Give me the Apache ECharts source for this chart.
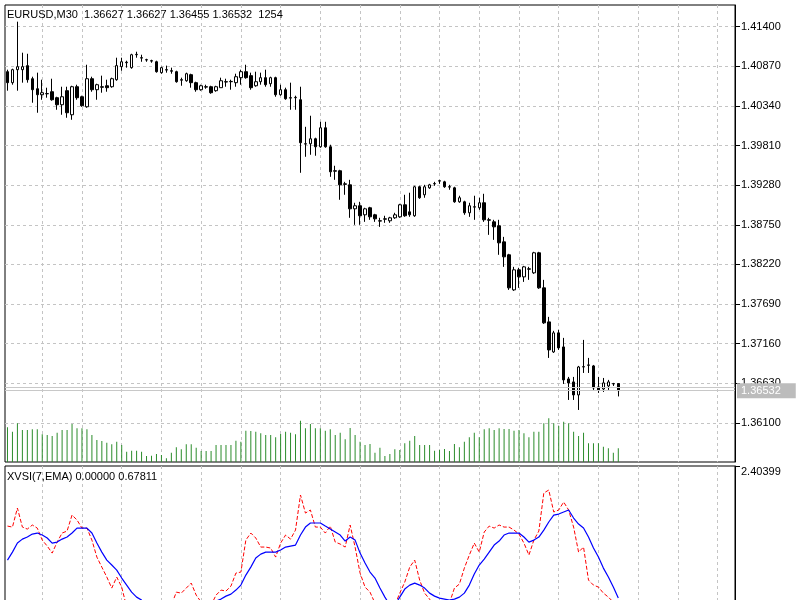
<!DOCTYPE html>
<html>
<head>
<meta charset="utf-8">
<title>EURUSD,M30</title>
<script src="https://cdn.jsdelivr.net/npm/echarts@6/dist/echarts.min.js"></script>
<style>
html, body { margin: 0; padding: 0; background: #fff; }
#chart { width: 800px; height: 600px; }
</style>
</head>
<body>
<div id="chart"></div>
<script>
/* M30 bars: [open, close, low, high] */
var bars = [
  [1.40798,1.40651,1.40544,1.40825],[1.40651,1.40825,1.40624,1.40838],[1.40825,1.40865,1.40544,1.41467],[1.40825,1.40865,1.40651,1.41052],
  [1.40879,1.40691,1.40651,1.41038],[1.40704,1.40557,1.40383,1.40731],[1.40570,1.40490,1.40249,1.40785],[1.40490,1.40517,1.40423,1.40691],
  [1.40505,1.40503,1.40450,1.40584],[1.40530,1.40423,1.40410,1.40704],[1.40450,1.40356,1.40289,1.40463],[1.40356,1.40463,1.40222,1.40597],
  [1.40544,1.40249,1.40182,1.40597],[1.40222,1.40597,1.40155,1.40610],[1.40597,1.40450,1.40423,1.40624],[1.40463,1.40343,1.40329,1.40477],
  [1.40329,1.40704,1.40316,1.40891],[1.40704,1.40557,1.40530,1.40731],[1.40557,1.40624,1.40423,1.40637],[1.40597,1.40590,1.40517,1.40745],
  [1.40610,1.40584,1.40530,1.40691],[1.40597,1.40704,1.40584,1.40718],[1.40691,1.40879,1.40677,1.40985],[1.40865,1.40931,1.40811,1.40985],
  [1.40918,1.40925,1.40852,1.40945],[1.40852,1.41025,1.40838,1.41038],[1.41025,1.41030,1.40985,1.41065],[1.40985,1.40980,1.40931,1.41025],
  [1.40958,1.40955,1.40931,1.40971],[1.40945,1.40940,1.40918,1.40958],[1.40931,1.40798,1.40785,1.40945],[1.40785,1.40852,1.40771,1.40865],
  [1.40825,1.40820,1.40785,1.40879],[1.40811,1.40805,1.40771,1.40852],[1.40798,1.40664,1.40651,1.40811],[1.40691,1.40685,1.40610,1.40718],
  [1.40677,1.40771,1.40664,1.40785],[1.40758,1.40651,1.40584,1.40771],[1.40651,1.40557,1.40530,1.40664],[1.40557,1.40610,1.40544,1.40624],
  [1.40597,1.40592,1.40570,1.40624],[1.40597,1.40517,1.40503,1.40610],[1.40544,1.40597,1.40530,1.40610],[1.40584,1.40677,1.40584,1.40718],
  [1.40664,1.40660,1.40597,1.40704],[1.40664,1.40668,1.40557,1.40691],[1.40651,1.40731,1.40597,1.40771],[1.40718,1.40798,1.40624,1.40825],
  [1.40798,1.40718,1.40704,1.40891],[1.40745,1.40584,1.40557,1.40785],[1.40610,1.40664,1.40597,1.40798],[1.40664,1.40718,1.40624,1.40785],
  [1.40718,1.40624,1.40597,1.40825],[1.40637,1.40718,1.40597,1.40731],[1.40718,1.40490,1.40463,1.40731],[1.40490,1.40557,1.40477,1.40624],
  [1.40557,1.40436,1.40423,1.40584],[1.40450,1.40445,1.40289,1.40651],[1.40450,1.40455,1.40289,1.40477],[1.40423,1.39848,1.39446,1.40597],
  [1.39834,1.39830,1.39660,1.40061],[1.39834,1.39901,1.39687,1.40209],[1.39901,1.39794,1.39674,1.39915],[1.39794,1.40048,1.39781,1.40128],
  [1.40048,1.39794,1.39781,1.40128],[1.39794,1.39459,1.39392,1.39821],[1.39473,1.39468,1.39352,1.39540],[1.39473,1.39285,1.39085,1.39486],
  [1.39298,1.39292,1.39152,1.39325],[1.39285,1.38964,1.38844,1.39352],[1.38964,1.39005,1.38750,1.39045],[1.39005,1.38871,1.38750,1.39058],
  [1.38884,1.38964,1.38790,1.38978],[1.38978,1.38857,1.38817,1.38991],[1.38884,1.38830,1.38790,1.38897],[1.38804,1.38800,1.38723,1.38844],
  [1.38830,1.38826,1.38777,1.38871],[1.38804,1.38844,1.38777,1.38857],[1.38844,1.38884,1.38830,1.38911],[1.38857,1.39018,1.38844,1.39031],
  [1.39018,1.38871,1.38857,1.39152],[1.38924,1.38884,1.38857,1.39179],[1.38871,1.39259,1.38857,1.39272],[1.39259,1.39112,1.39098,1.39272],
  [1.39152,1.39259,1.39112,1.39285],[1.39245,1.39285,1.39232,1.39298],[1.39298,1.39302,1.39272,1.39325],[1.39339,1.39335,1.39298,1.39352],
  [1.39325,1.39259,1.39245,1.39339],[1.39259,1.39255,1.39219,1.39285],[1.39245,1.39058,1.39045,1.39259],[1.39058,1.39112,1.39045,1.39139],
  [1.39058,1.38911,1.38884,1.39072],[1.38911,1.39005,1.38857,1.39045],[1.38991,1.38987,1.38817,1.39139],[1.38978,1.39045,1.38951,1.39112],
  [1.39045,1.38817,1.38790,1.39165],[1.38817,1.38812,1.38616,1.38844],[1.38790,1.38723,1.38549,1.38817],[1.38737,1.38509,1.38349,1.38817],
  [1.38522,1.38322,1.38188,1.38589],[1.38349,1.37907,1.37880,1.38362],[1.37880,1.38148,1.37867,1.38188],[1.38148,1.38054,1.37907,1.38175],
  [1.38054,1.38188,1.37987,1.38201],[1.38161,1.38157,1.38014,1.38188],[1.38108,1.38376,1.38094,1.38389],[1.38376,1.37907,1.37894,1.38389],
  [1.37907,1.37439,1.37425,1.38014],[1.37452,1.37077,1.36970,1.37519],[1.37050,1.37305,1.37037,1.37332],[1.37305,1.37104,1.37077,1.37345],
  [1.37117,1.36676,1.36622,1.37238],[1.36689,1.36636,1.36408,1.36716],[1.36649,1.36475,1.36408,1.36716],[1.36475,1.36849,1.36274,1.36863],
  [1.36849,1.36853,1.36769,1.37211],[1.36876,1.36872,1.36769,1.36970],[1.36863,1.36569,1.36542,1.36876],[1.36582,1.36542,1.36502,1.36716],
  [1.36555,1.36636,1.36515,1.36702],[1.36595,1.36649,1.36542,1.36676],[1.36622,1.36627,1.36595,1.36636],[1.36627,1.36532,1.36455,1.36627]
];

/* tick volume */
var volumes = [
  3172,2776,3538,2928,2928,2989,2989,2532,2471,2379,
  2684,2928,2928,3477,3081,3081,2989,2471,2013,1922,
  1769,1617,1861,1556,946,1037,1037,946,549,580,
  732,641,336,854,1342,1159,1617,1617,1312,1007,
  1007,1007,1556,1556,1556,1556,1952,1861,2867,2837,
  2776,2623,2471,2471,2257,2562,2776,2684,2532,3782,
  3081,3477,3081,3081,2867,2989,2471,2684,2074,3111,
  2471,1861,1556,1647,854,1312,549,732,1159,1098,
  1708,1952,2379,1556,1556,1556,1037,1098,1190,1007,
  1647,1342,1861,2257,2684,2257,2989,3081,2928,3081,
  3020,3020,2867,2928,2623,2257,2776,2776,3538,3996,
  3538,3294,3691,3538,2776,2379,2684,1708,1708,1708,
  1403,1251,854,1254
];

/* XVSI(7,EMA) - raw (red, dashed) */
var xvsiRaw = [
  1.619,1.606,1.855,1.606,1.580,1.633,1.593,1.436,1.358,1.266,
  1.410,1.528,1.554,1.763,1.698,1.593,1.593,1.436,1.214,1.083,
  0.953,0.809,0.953,0.822,0.560,0.456,0.325,0.233,0.194,0.259,
  0.325,0.416,0.495,0.586,0.756,0.743,0.809,0.874,0.717,0.626,
  0.547,0.586,0.717,0.783,0.770,0.835,1.005,1.018,1.436,1.528,
  1.463,1.345,1.345,1.332,1.214,1.397,1.502,1.449,1.567,2.025,
  1.789,1.829,1.606,1.606,1.528,1.619,1.410,1.384,1.345,1.633,
  1.345,1.005,0.822,0.756,0.613,0.456,0.325,0.390,0.586,0.743,
  0.887,1.083,1.175,0.913,0.743,0.665,0.547,0.456,0.495,0.613,
  0.809,0.861,1.070,1.240,1.397,1.279,1.541,1.619,1.593,1.633,
  1.606,1.606,1.567,1.515,1.397,1.240,1.436,1.554,2.051,2.090,
  1.803,1.829,1.933,1.829,1.606,1.279,1.345,0.913,0.848,0.822,
  0.743,0.691,0.626,0.547
];

/* XVSI(7,EMA) - smoothed (blue) */
var xvsiEma = [
  1.175,1.279,1.397,1.449,1.476,1.515,1.528,1.502,1.463,1.397,
  1.410,1.449,1.476,1.528,1.593,1.593,1.593,1.528,1.397,1.279,
  1.175,1.110,1.044,0.940,0.848,0.756,0.691,0.652,0.586,0.521,
  0.482,0.456,0.456,0.469,0.495,0.521,0.547,0.573,0.586,0.600,
  0.613,0.626,0.639,0.665,0.704,0.730,0.783,0.848,0.979,1.083,
  1.201,1.253,1.279,1.279,1.279,1.306,1.345,1.358,1.371,1.502,
  1.606,1.659,1.659,1.659,1.619,1.580,1.541,1.502,1.423,1.476,
  1.436,1.266,1.136,1.018,0.940,0.809,0.691,0.586,0.586,0.691,
  0.796,0.848,0.874,0.848,0.809,0.743,0.704,0.678,0.665,0.652,
  0.665,0.691,0.743,0.848,0.992,1.110,1.188,1.279,1.371,1.423,
  1.502,1.528,1.528,1.528,1.476,1.410,1.436,1.476,1.567,1.672,
  1.763,1.776,1.803,1.829,1.724,1.646,1.593,1.476,1.332,1.214,
  1.070,0.953,0.822,0.67811
];

var priceTicks = [1.36100,1.36630,1.37160,1.37690,1.38220,1.38750,1.39280,1.39810,1.40340,1.40870,1.41400];
var xvsiTicks = [2.40399];
var bid = 1.36532, ask = 1.36572;

var slots = 147;   // bars that fit on screen (empty ones on the right)
var cats = [];
for (var i = 0; i < slots; i++) cats.push(String(i));

var FONT = 'Liberation Sans';
var gridDash = { color: '#c4c4c4', type: [3, 3], width: 1 };
var vSplit = {
  show: true,
  alignWithLabel: true,
  interval: function (idx) { return idx % 8 === 7; },
  lineStyle: gridDash
};

var chart = echarts.init(document.getElementById('chart'));
chart.setOption({
  animation: false,
  backgroundColor: '#fff',
  textStyle: { fontFamily: FONT },
  title: [
    { text: 'EURUSD,M30  1.36627 1.36627 1.36455 1.36532  1254', left: 7, top: 9, padding: 0,
      textStyle: { fontFamily: FONT, fontSize: 11, fontWeight: 'normal', color: '#000' } },
    { text: 'XVSI(7,EMA) 0.00000 0.67811', left: 7, top: 471, padding: 0,
      textStyle: { fontFamily: FONT, fontSize: 11, fontWeight: 'normal', color: '#000' } }
  ],
  grid: [
    { left: 5, top: 5, width: 730, height: 457, outerBoundsMode: 'none', containLabel: false,
      show: true, borderColor: '#000', borderWidth: 1, backgroundColor: '#fff' },
    { left: 5, top: 466, width: 730, height: 184, outerBoundsMode: 'none', containLabel: false,
      show: true, borderColor: '#000', borderWidth: 1, backgroundColor: '#fff' }
  ],
  xAxis: [
    { type: 'category', gridIndex: 0, data: cats, boundaryGap: true,
      axisLine: { show: false }, axisTick: { show: false }, axisLabel: { show: false }, splitLine: vSplit },
    { type: 'category', gridIndex: 1, data: cats, boundaryGap: true,
      axisLine: { show: false }, axisTick: { show: false }, axisLabel: { show: false }, splitLine: vSplit }
  ],
  yAxis: [
    { type: 'value', gridIndex: 0, position: 'right', min: 1.35578, max: 1.41690, scale: true,
      axisLine: { show: true, lineStyle: { color: '#000' } },
      axisTick: { show: true, length: 5, customValues: priceTicks, lineStyle: { color: '#000' } },
      axisLabel: { show: true, customValues: priceTicks, margin: 6, fontSize: 11, fontFamily: FONT, color: '#000',
        formatter: function (v) { return v.toFixed(5); } },
      splitLine: { show: true, lineStyle: gridDash } },
    { type: 'value', gridIndex: 0, min: 0, max: 41816, show: false, splitLine: { show: false } },
    { type: 'value', gridIndex: 1, position: 'right', min: 0, max: 2.40399,
      axisLine: { show: true, lineStyle: { color: '#000' } },
      axisTick: { show: true, length: 5, customValues: xvsiTicks, lineStyle: { color: '#000' } },
      axisLabel: { show: true, customValues: xvsiTicks, margin: 6, fontSize: 11, fontFamily: FONT, color: '#000',
        verticalAlign: 'top', formatter: function (v) { return v.toFixed(5); } },
      splitLine: { show: false } }
  ],
  series: [
    { name: 'Volume', type: 'bar', xAxisIndex: 0, yAxisIndex: 1, data: volumes,
      barWidth: 1, silent: true, z: 1, itemStyle: { color: '#2b8c2b' } },
    { name: 'EURUSD', type: 'candlestick', xAxisIndex: 0, yAxisIndex: 0, data: bars,
      barWidth: 3, silent: true, z: 3,
      itemStyle: { color: '#fff', color0: '#000', borderColor: '#000', borderColor0: '#000', borderWidth: 1 } },
    // bid / ask lines and the price tag on the scale
    { name: 'Price', type: 'line', xAxisIndex: 0, yAxisIndex: 0, data: [], silent: true, z: 2,
      markLine: {
        silent: true, symbol: 'none', animation: false, precision: 5,
        lineStyle: { color: '#c8c8c8', type: 'solid', width: 1 },
        data: [
          { yAxis: ask, label: { show: false } },
          { yAxis: bid, label: { show: true, position: 'end', distance: 2, formatter: bid.toFixed(5),
              backgroundColor: '#bcbcbc', color: '#fff', fontSize: 11, fontFamily: FONT, padding: [2, 15, 2, 4] } }
        ]
      } },
    { name: 'XVSI', type: 'line', xAxisIndex: 1, yAxisIndex: 2, data: xvsiRaw,
      showSymbol: false, symbol: 'none', silent: true, z: 3,
      lineStyle: { color: '#ff0000', width: 1, type: [4, 2] } },
    { name: 'EMA', type: 'line', xAxisIndex: 1, yAxisIndex: 2, data: xvsiEma,
      showSymbol: false, symbol: 'none', silent: true, z: 4,
      lineStyle: { color: '#0000ff', width: 1.2 } }
  ]
});
</script>
</body>
</html>
